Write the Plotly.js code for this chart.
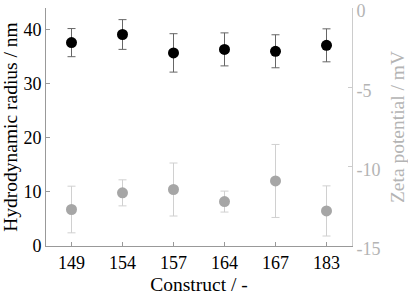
<!DOCTYPE html>
<html>
<head>
<meta charset="utf-8">
<script src="https://cdn.plot.ly/plotly-3.0.1.min.js"></script>
<style>html,body{margin:0;padding:0;background:#fff}#chart{width:408px;height:295px}</style>
</head>
<body>
<div id="chart"></div>
<script>
const constructs = ['149', '154', '157', '164', '167', '183'];
const radius = [37.6, 39.1, 35.7, 36.35, 36.0, 37.1];
const radiusErr = [2.6, 2.75, 3.55, 3.05, 3.05, 3.05];
const zeta = [-12.7, -11.65, -11.44, -12.2, -10.9, -12.79];
const zetaErr = [1.47, 0.82, 1.67, 0.66, 2.3, 1.58];
const zetaTicks = [-15, -10, -5, 0];
const zetaTickText = ['-15', '-10', '-5', '0'];

const serif = 'Liberation Serif, Times New Roman, serif';
const grey = '#b4b4b4';

const traces = [
  {
    x: constructs, y: zeta, type: 'scatter', mode: 'markers', yaxis: 'y2',
    marker: {color: '#a6a6a6', size: 11},
    error_y: {type: 'data', array: zetaErr, visible: true, color: '#d0d0d0', thickness: 1, width: 4},
    hoverinfo: 'skip'
  },
  {
    x: constructs, y: radius, type: 'scatter', mode: 'markers',
    marker: {color: '#000000', size: 11},
    error_y: {type: 'data', array: radiusErr, visible: true, color: '#666666', thickness: 1, width: 4},
    hoverinfo: 'skip'
  }
];

const layout = {
  width: 408, height: 295,
  margin: {l: 46, r: 56, t: 8, b: 49},
  paper_bgcolor: '#fff', plot_bgcolor: '#fff',
  showlegend: false,
  font: {family: serif, size: 18, color: '#000'},
  xaxis: {
    type: 'category', range: [-0.5, 5.5],
    showline: true, linecolor: '#999', linewidth: 1,
    ticks: 'inside', ticklen: 4, tickcolor: '#999',
    showgrid: false, zeroline: false,
    tickfont: {family: serif, size: 18, color: '#000'},
    title: {text: 'Construct / -', font: {family: serif, size: 19.5, color: '#000'}}
  },
  yaxis: {
    range: [0, 44], tickvals: [0, 10, 20, 30, 40],
    showline: true, linecolor: '#999', linewidth: 1,
    ticks: 'inside', ticklen: 4, tickcolor: '#999',
    showgrid: false, zeroline: false, ticklabeloverflow: 'allow',
    tickfont: {family: serif, size: 18, color: '#000'},
    title: {text: 'Hydrodynamic radius / nm', font: {family: serif, size: 19.5, color: '#000'}}
  },
  yaxis2: {
    overlaying: 'y', side: 'right',
    range: [-15, 0], tickvals: zetaTicks, ticktext: zetaTickText,
    showline: true, linecolor: '#cccccc', linewidth: 1,
    ticks: 'inside', ticklen: 4, tickcolor: '#cccccc',
    showgrid: false, zeroline: false, ticklabeloverflow: 'allow',
    ticklabelshift: 3,
    tickfont: {family: serif, size: 18, color: grey},
    title: {text: 'Zeta potential / mV', font: {family: serif, size: 19.5, color: grey}}
  }
};

Plotly.newPlot('chart', traces, layout, {displayModeBar: false, staticPlot: true});
</script>
</body>
</html>
